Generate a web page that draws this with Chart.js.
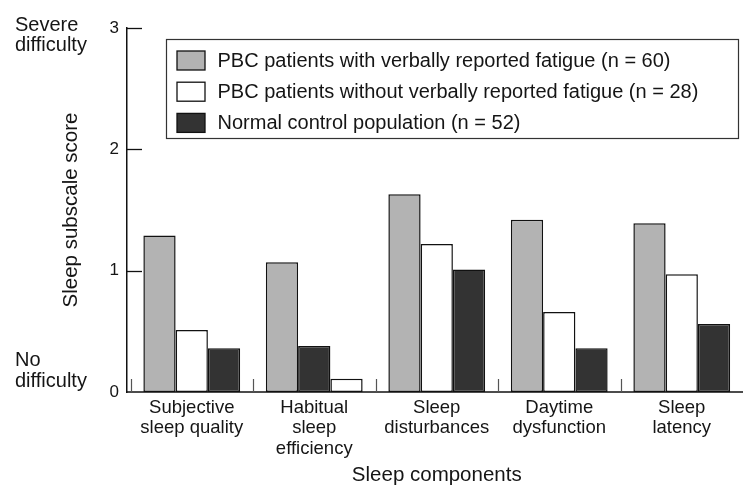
<!DOCTYPE html>
<html><head><meta charset="utf-8">
<script src="https://cdn.jsdelivr.net/npm/chart.js@4.4.0/dist/chart.umd.min.js"></script>
<style>html,body{margin:0;padding:0;background:#fff}#wrap{width:743px;height:489px;position:relative}</style>
</head><body><div id="wrap"><canvas id="c" width="743" height="489"></canvas></div>
<script>
const categories = [["Subjective","sleep quality"],["Habitual","sleep","efficiency"],["Sleep","disturbances"],["Daytime","dysfunction"],["Sleep","latency"]];
const seriesNames = ["PBC patients with verbally reported fatigue (n = 60)","PBC patients without verbally reported fatigue (n = 28)","Normal control population (n = 52)"];
const fatigue   = [1.29, 1.07, 1.63, 1.42, 1.39];
const noFatigue = [0.51, 0.11, 1.22, 0.66, 0.97];
const controls  = [0.36, 0.38, 1.01, 0.36, 0.56];
// order of the three bars inside each group (series index per position)
const barOrder = [[0,1,2],[0,2,1],[0,1,2],[0,1,2],[0,1,2]];
const yTicks = [0,1,2,3];
const yTopLabel = ["Severe","difficulty"];
const yBottomLabel = ["No","difficulty"];
const xTitle = "Sleep components";
const yTitle = "Sleep subscale score";

const seriesColors = ['#b3b3b3','#ffffff','#333333'];
const FONT = '"Liberation Sans", Arial, Helvetica, sans-serif';
const INK = '#151515';
const allSeries = [fatigue, noFatigue, controls];

const datasets = [0,1,2].map(slot => ({
  label: 'position ' + (slot+1),
  data: categories.map((_, i) => allSeries[barOrder[i][slot]][i]),
  backgroundColor: categories.map((_, i) => seriesColors[barOrder[i][slot]]),
  borderColor: '#111',
  borderWidth: 1.5,
  borderSkipped: false,
  categoryPercentage: 0.79,
  barPercentage: 1.0
}));

const decor = {
  id: 'decor',
  afterLayout(chart) {
    const x = chart.scales.x;
    x.left = chart.chartArea.left + 3.5;
    x.width = x.right - x.left;
    x._labelItems = null; x._gridLineItems = null;
    x.configure();
  },
  afterDraw(chart) {
    const ctx = chart.ctx, ca = chart.chartArea;
    const x = chart.scales.x, y = chart.scales.y;
    const y0 = y.getPixelForValue(0);
    ctx.save();
    // baseline
    ctx.strokeStyle = '#111'; ctx.lineWidth = 1.5;
    ctx.beginPath(); ctx.moveTo(ca.left - 0.75, y0); ctx.lineTo(ca.right, y0); ctx.stroke();
    // inward y ticks
    ctx.lineWidth = 1.3;
    yTicks.forEach(v => {
      if (v === 0) return;
      const py = Math.round(y.getPixelForValue(v)) + 0.5;
      ctx.beginPath(); ctx.moveTo(ca.left, py); ctx.lineTo(ca.left + 15, py); ctx.stroke();
    });
    // category separators
    ctx.strokeStyle = '#555'; ctx.lineWidth = 1.2;
    const n = categories.length;
    for (let i = 0; i < n; i++) {
      const half = (x.getPixelForValue(1) - x.getPixelForValue(0)) / 2;
      const px = Math.round(x.getPixelForValue(i) - half) + 0.5;
      ctx.beginPath(); ctx.moveTo(px, y0); ctx.lineTo(px, y0 - 13); ctx.stroke();
    }
    // end labels on y axis
    ctx.fillStyle = INK; ctx.font = '20px ' + FONT; ctx.textAlign = 'left'; ctx.textBaseline = 'alphabetic';
    const y3 = y.getPixelForValue(3);
    ctx.fillText(yTopLabel[0], 15, y3 + 2.5);
    ctx.fillText(yTopLabel[1], 15, y3 + 23);
    ctx.fillText(yBottomLabel[0], 15, y0 - 26);
    ctx.fillText(yBottomLabel[1], 15, y0 - 5.3);
    // legend
    const lx = ca.left + 39, ly = ca.top + 11, lr = ca.right - 5, lb = ca.top + 110;
    ctx.fillStyle = '#fff'; ctx.fillRect(lx, ly, lr - lx, lb - ly);
    ctx.strokeStyle = '#333'; ctx.lineWidth = 1.2;
    ctx.strokeRect(lx + 0.5, ly + 0.5, lr - lx, lb - ly);
    seriesNames.forEach((name, k) => {
      const cy = ly + 21.5 + k * 31.2;
      ctx.fillStyle = seriesColors[k];
      ctx.fillRect(lx + 11, cy - 9.5, 28, 19);
      ctx.strokeStyle = '#111'; ctx.lineWidth = 1.3;
      ctx.strokeRect(lx + 11, cy - 9.5, 28, 19);
      ctx.fillStyle = INK; ctx.font = '20px ' + FONT; ctx.textBaseline = 'middle';
      ctx.fillText(name, lx + 51.5, cy + 1);
    });
    ctx.restore();
  }
};

new Chart(document.getElementById('c'), {
  type: 'bar',
  data: { labels: categories, datasets },
  options: {
    responsive: false,
    animation: false,
    devicePixelRatio: 1,
    layout: { padding: { top: 28, right: 0, bottom: 0, left: 0 } },
    plugins: { legend: { display: false }, tooltip: { enabled: false } },
    scales: {
      x: {
        type: 'category',
        offset: true,
        grid: { display: false, drawTicks: false },
        border: { display: false },
        ticks: { color: INK, font: { family: FONT, size: 18.5, lineHeight: 1.12 }, padding: 5.3, maxRotation: 0, autoSkip: false },
        title: { display: true, text: xTitle, color: INK, font: { family: FONT, size: 20.5 }, padding: { top: 0, bottom: 1 } },
        afterFit(s) { s.height = 97; }
      },
      y: {
        min: 0, max: 3,
        grid: { display: false, drawTicks: false },
        border: { display: true, color: '#111', width: 1.5 },
        ticks: { stepSize: 1, color: INK, font: { family: FONT, size: 17 }, padding: 8,
                 callback: (v) => yTicks.includes(v) ? String(v) : '' },
        title: { display: true, text: yTitle, color: INK, font: { family: FONT, size: 20.5 }, padding: { top: 59, bottom: 0 } },
        afterFit(s) { s.width = 127; }
      }
    }
  },
  plugins: [decor]
});
</script></body></html>
